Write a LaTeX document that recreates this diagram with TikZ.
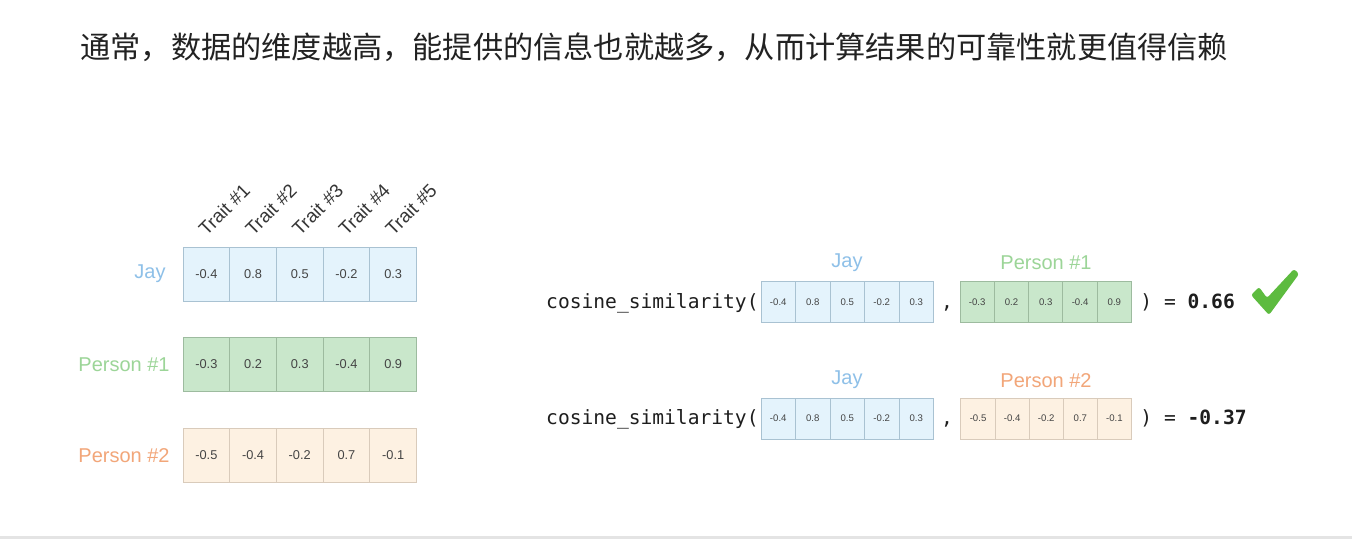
\documentclass[tikz,border=0pt]{standalone}
\usepackage{fontspec}
\setmainfont{Liberation Sans}
\setmonofont{DejaVu Sans Mono}
\newfontfamily\cjk{Noto Sans CJK SC}
\definecolor{jayfill}{HTML}{E4F3FC}
\definecolor{jaydraw}{HTML}{A9C2D2}
\definecolor{jaytext}{HTML}{8EC0E8}
\definecolor{ponefill}{HTML}{C9E7CB}
\definecolor{ponedraw}{HTML}{9DBB9F}
\definecolor{ponetext}{HTML}{9CD598}
\definecolor{ptwofill}{HTML}{FDF1E2}
\definecolor{ptwodraw}{HTML}{D9CBBB}
\definecolor{ptwotext}{HTML}{F2A679}
\definecolor{numtext}{HTML}{444444}
\definecolor{titletext}{HTML}{222222}
\definecolor{codetext}{HTML}{1E1E1E}
\definecolor{checkgreen}{HTML}{5DBB3F}
\definecolor{bandgray}{HTML}{E4E4E4}
\begin{document}
\begin{tikzpicture}[x=0.5pt,y=-0.5pt,
  bigcell/.style={draw=#1draw, fill=#1fill, minimum width=23.35pt, minimum height=27pt,
    inner sep=0pt, font=\fontsize{6.4pt}{7pt}\selectfont, text=numtext},
  smallcell/.style={draw=#1draw, fill=#1fill, minimum width=17.2pt, minimum height=20.5pt,
    inner sep=0pt, font=\fontsize{4.8pt}{5pt}\selectfont, text=numtext},
  rowlabel/.style={anchor=east, inner sep=0pt, font=\fontsize{10pt}{12pt}\selectfont},
  toplabel/.style={inner sep=0pt, font=\fontsize{10pt}{12pt}\selectfont},
  traitlabel/.style={rotate=45, anchor=base west, inner sep=0pt, font=\fontsize{9.4pt}{11pt}\selectfont, text=numtext!80!black},
  codetxt/.style={inner sep=0pt, font=\ttfamily\fontsize{9.8pt}{12pt}\selectfont, text=codetext}
]
\useasboundingbox (0,0) rectangle (1352,539);
\fill[white] (0,0) rectangle (1352,539);
\fill[bandgray] (0,536) rectangle (1352,539);

% title
\node[anchor=west, inner sep=0pt, font=\cjk\fontsize{15.1pt}{18pt}\selectfont, text=titletext] (title) at (80,47)
  {通常，数据的维度越高，能提供的信息也就越多，从而计算结果的可靠性就更值得信赖};

% left table
\foreach \v [count=\i] in {-0.4,0.8,0.5,-0.2,0.3}
  \node[bigcell=jay] (jay\i) at ({183+46.7*(\i-0.5)},274) {\v};
\foreach \v [count=\i] in {-0.3,0.2,0.3,-0.4,0.9}
  \node[bigcell=pone] (pone\i) at ({183+46.7*(\i-0.5)},364) {\v};
\foreach \v [count=\i] in {-0.5,-0.4,-0.2,0.7,-0.1}
  \node[bigcell=ptwo] (ptwo\i) at ({183+46.7*(\i-0.5)},455) {\v};

\foreach \i in {1,...,5}
  \node[traitlabel] (trait\i) at ({183+46.7*(\i-0.5)},237) {Trait \#\i};

\node[rowlabel, text=jaytext] (jaylabel) at (166,274) {Jay};
\node[rowlabel, text=ponetext] (ponelabel) at (170,365) {Person \#1};
\node[rowlabel, text=ptwotext] (ptwolabel) at (170,456) {Person \#2};

% right: row 1
\node[codetxt, anchor=base east] (cosa) at (759,308) {cosine\_similarity(};
\foreach \v [count=\i] in {-0.4,0.8,0.5,-0.2,0.3}
  \node[smallcell=jay] (ajay\i) at ({761+34.5*(\i-0.5)},302) {\v};
\node[codetxt, anchor=base] (comma1) at (947,308) {,};
\foreach \v [count=\i] in {-0.3,0.2,0.3,-0.4,0.9}
  \node[smallcell=pone] (apone\i) at ({960+34.3*(\i-0.5)},302) {\v};
\node[codetxt, anchor=base west] (resa) at (1140,308) {) = \textbf{0.66}};
\node[toplabel, text=jaytext] (ajaylab) at (847,263) {Jay};
\node[toplabel, text=ponetext] (aponelab) at (1046,263) {Person \#1};

% check mark
\fill[checkgreen, rounded corners=1.2pt]
  (1251,295) -- (1259,287) -- (1267,298) -- (1294,269) -- (1299,274) -- (1269,315) -- cycle;

% right: row 2
\node[codetxt, anchor=base east] (cosb) at (759,424.5) {cosine\_similarity(};
\foreach \v [count=\i] in {-0.4,0.8,0.5,-0.2,0.3}
  \node[smallcell=jay] (bjay\i) at ({761+34.5*(\i-0.5)},418.5) {\v};
\node[codetxt, anchor=base] (comma2) at (947,424.5) {,};
\foreach \v [count=\i] in {-0.5,-0.4,-0.2,0.7,-0.1}
  \node[smallcell=ptwo] (bptwo\i) at ({961+34.1*(\i-0.5)},418.5) {\v};
\node[codetxt, anchor=base west] (resb) at (1140,424.5) {) = \textbf{-0.37}};
\node[toplabel, text=jaytext] (bjaylab) at (847,380) {Jay};
\node[toplabel, text=ptwotext] (bptwolab) at (1046,381) {Person \#2};
\end{tikzpicture}
\end{document}
